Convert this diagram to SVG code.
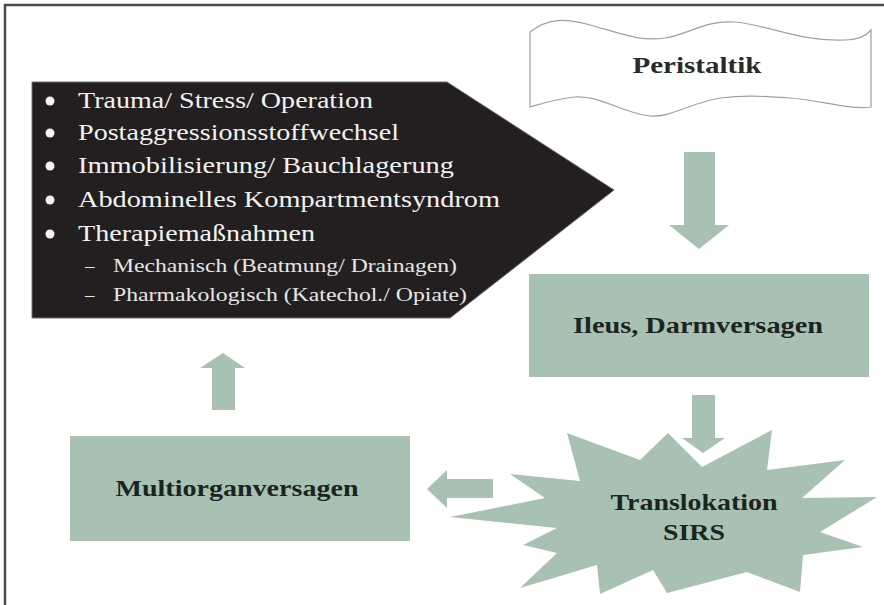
<svg xmlns="http://www.w3.org/2000/svg" width="884" height="605" viewBox="0 0 884 605">
<style>
.g{fill:#a9c1b3}
.lbl{font-family:"Liberation Serif","Times New Roman",serif;font-weight:bold;fill:#1c241f;font-size:24px}
.wt{font-family:"Liberation Serif","Times New Roman",serif;fill:#f2f2f2;font-size:23px}
.ws{font-family:"Liberation Serif","Times New Roman",serif;fill:#e6e6e6;font-size:19px}
</style>
<rect width="884" height="605" fill="#ffffff"/>
<path d="M5,605 L5,5 L884,5" fill="none" stroke="#4a4a4a" stroke-width="2.5"/>
<g id="factors">
<polygon points="32,82 447,82 614,190 450,318 32,318" fill="#231f20" stroke="#6a6a6a" stroke-width="1"/>
<g fill="#f2f2f2">
<circle cx="50" cy="101" r="4.5"/>
<circle cx="50" cy="133" r="4.5"/>
<circle cx="50" cy="166" r="4.5"/>
<circle cx="50" cy="200" r="4.5"/>
<circle cx="50" cy="234" r="4.5"/>
</g>
<text class="wt" x="78" y="108" textLength="295" lengthAdjust="spacingAndGlyphs">Trauma/ Stress/ Operation</text>
<text class="wt" x="78" y="140" textLength="321" lengthAdjust="spacingAndGlyphs">Postaggressionsstoffwechsel</text>
<text class="wt" x="78" y="173" textLength="376" lengthAdjust="spacingAndGlyphs">Immobilisierung/ Bauchlagerung</text>
<text class="wt" x="78" y="207" textLength="422" lengthAdjust="spacingAndGlyphs">Abdominelles Kompartmentsyndrom</text>
<text class="wt" x="78" y="241" textLength="237" lengthAdjust="spacingAndGlyphs">Therapiemaßnahmen</text>
<text class="ws" x="85" y="272">–</text>
<text class="ws" x="113" y="272" textLength="344" lengthAdjust="spacingAndGlyphs">Mechanisch (Beatmung/ Drainagen)</text>
<text class="ws" x="85" y="301">–</text>
<text class="ws" x="113" y="301" textLength="354" lengthAdjust="spacingAndGlyphs">Pharmakologisch (Katechol./ Opiate)</text>
</g>
<g id="peristaltik">
<path d="M530,32 C548,18 565,18 590,25 C620,33 640,42 665,38 C690,34 705,20 735,22 C765,24 800,42 845,40 C858,40 866,36 871,30 L871,107 C850,110 820,100 790,98 C760,96 745,95 720,98 C690,103 670,118 650,116 C625,114 600,95 575,97 C555,99 540,104 530,107 Z" fill="#ffffff" stroke="#a0a0a0" stroke-width="1.2"/>
<text class="lbl" x="697" y="73" text-anchor="middle" textLength="129" lengthAdjust="spacingAndGlyphs" style="fill:#2a2a2a">Peristaltik</text>
</g>
<g id="ileus">
<rect class="g" x="529" y="274" width="340" height="103"/>
<text class="lbl" x="698" y="333" text-anchor="middle" textLength="250" lengthAdjust="spacingAndGlyphs">Ileus, Darmversagen</text>
</g>
<g id="translokation">
<polygon class="g" points="567,433 640,460 668,433 702,467 772,430 767,470 845,460 802,498 877,497 820,532 863,547 803,555 800,592 747,572 667,593 653,570 600,594 597,565 520,588 557,553 523,545 557,528 450,517 545,498 510,474 580,481"/>
<text class="lbl" x="694" y="510" text-anchor="middle" textLength="167" lengthAdjust="spacingAndGlyphs">Translokation</text>
<text class="lbl" x="694" y="540" text-anchor="middle" textLength="62" lengthAdjust="spacingAndGlyphs">SIRS</text>
</g>
<g id="multiorgan">
<rect class="g" x="70" y="436" width="340" height="105"/>
<text class="lbl" x="237" y="496" text-anchor="middle" textLength="243" lengthAdjust="spacingAndGlyphs">Multiorganversagen</text>
</g>
<g id="connectors" class="g">
<polygon points="684,152 715,152 715,225 729,225 699,249 669,225 684,225"/>
<polygon points="692,395 715,395 715,438 725,438 703,453 682,438 692,438"/>
<polygon points="493,479 493,498 447,498 447,508 427,489 447,470 447,479"/>
<polygon points="212,410 235,410 235,368 245,368 223,353 200,368 212,368"/>
</g>
</svg>
